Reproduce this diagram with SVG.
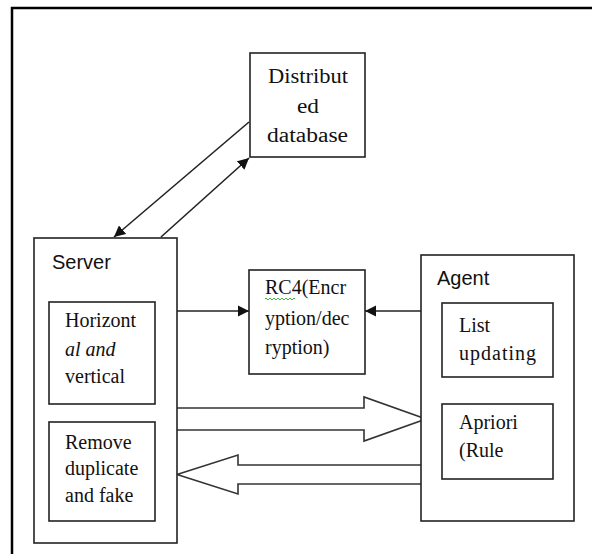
<svg xmlns="http://www.w3.org/2000/svg" width="592" height="554" viewBox="0 0 592 554">
  <style>
    .box { fill: #fff; stroke: #222; stroke-width: 1.6; }
    .serif { font-family: "Liberation Serif", "Times New Roman", serif; font-size: 20px; fill: #111; }
    .sans { font-family: "Liberation Sans", Arial, sans-serif; font-size: 20px; fill: #111; }
    .line { stroke: #222; stroke-width: 1.6; fill: none; }
    .block { fill: #fff; stroke: #333; stroke-width: 1.6; stroke-linejoin: miter; }
  </style>
  <defs>
    <marker id="head" viewBox="0 0 10 10" refX="10" refY="5" markerWidth="7" markerHeight="7" markerUnits="strokeWidth" orient="auto">
      <path d="M0,0 L10,5 L0,10 z" fill="#111"/>
    </marker>
  </defs>

  <rect width="592" height="554" fill="#fff"/>
  <!-- page frame -->
  <path d="M12,554 L12,8 L592,8" fill="none" stroke="#000" stroke-width="2.5"/>

  <g id="connectors">
    <line class="line" x1="249" y1="122" x2="114" y2="237" marker-end="url(#head)"/>
    <line class="line" x1="161" y1="237" x2="249" y2="158" marker-end="url(#head)"/>
    <line class="line" x1="160" y1="311" x2="249" y2="311" marker-end="url(#head)"/>
    <line class="line" x1="421" y1="311" x2="365" y2="311" marker-end="url(#head)"/>
    <!-- block arrow server to agent -->
    <path class="block" d="M177,408 L364,408 L364,397 L426,419 L364,441 L364,430 L177,430"/>
    <!-- block arrow agent to server -->
    <path class="block" d="M421,465 L238,465 L238,455 L177,474.5 L238,494 L238,484 L421,484"/>
  </g>

  <g id="distributed-database">
    <rect class="box" x="250" y="53" width="115" height="104"/>
    <text class="serif" x="268" y="83" font-size="21" textLength="80" lengthAdjust="spacingAndGlyphs">Distribut</text>
    <text class="serif" x="297" y="113" font-size="21" textLength="22" lengthAdjust="spacingAndGlyphs">ed</text>
    <text class="serif" x="267" y="142" font-size="21" textLength="81" lengthAdjust="spacingAndGlyphs">database</text>
  </g>

  <g id="server">
    <rect class="box" x="34" y="238" width="143" height="305"/>
    <text class="sans" x="52" y="269">Server</text>
  </g>

  <g id="horizontal-vertical">
    <rect class="box" x="49" y="302" width="106" height="102"/>
    <text class="serif" x="65" y="327">Horizont</text>
    <text class="serif" x="65" y="356" font-style="italic">al and</text>
    <text class="serif" x="65" y="383">vertical</text>
  </g>

  <g id="remove-duplicate">
    <rect class="box" x="49" y="422" width="106" height="99"/>
    <text class="serif" x="65" y="449">Remove</text>
    <text class="serif" x="65" y="475">duplicate</text>
    <text class="serif" x="65" y="502">and fake</text>
  </g>

  <g id="rc4">
    <rect class="box" x="249" y="270" width="116" height="104"/>
    <text class="serif" x="265" y="294">RC4(Encr</text>
    <path d="M265,299 q1,-2 2,0 t2,0 t2,0 t2,0 t2,0 t2,0 t2,0 t2,0 t2,0 t2,0 t2,0 t2,0 t2,0 t2,0 t2,0" fill="none" stroke="#3a3" stroke-width="0.9"/>
    <text class="serif" x="265" y="325">yption/dec</text>
    <text class="serif" x="265" y="354">ryption)</text>
  </g>

  <g id="agent">
    <rect class="box" x="421" y="255" width="153" height="266"/>
    <text class="sans" x="437" y="285">Agent</text>
  </g>

  <g id="list-updating">
    <rect class="box" x="442" y="303" width="111" height="74"/>
    <text class="serif" x="459" y="332">List</text>
    <text class="serif" x="459" y="360" textLength="77" lengthAdjust="spacing">updating</text>
  </g>

  <g id="apriori">
    <rect class="box" x="442" y="404" width="111" height="75"/>
    <text class="serif" x="459" y="429">Apriori</text>
    <text class="serif" x="459" y="457">(Rule</text>
  </g>
</svg>
